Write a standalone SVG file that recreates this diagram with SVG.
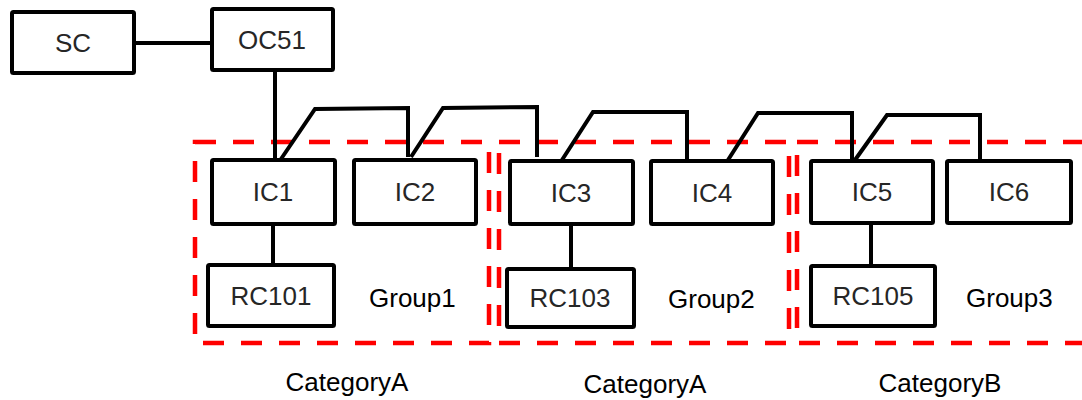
<svg xmlns="http://www.w3.org/2000/svg" width="1082" height="400" viewBox="0 0 1082 400">
<style>
.node rect{fill:#fff;stroke:#000;stroke-width:4;rx:1.5}
.node text{font-family:"Liberation Sans",Arial,sans-serif;font-size:26px;fill:#262626;text-anchor:middle}
.conn path,.conn line{fill:none;stroke:#000;stroke-width:4;stroke-linejoin:miter}
.grp rect{fill:none;stroke:#ff0000;stroke-width:4.5;stroke-dasharray:21 17}
.lbl{font-family:"Liberation Sans",Arial,sans-serif;font-size:26px;fill:#000}
</style>
<rect width="1082" height="400" fill="#fff"/>
<g id="groups" class="grp">
<rect x="195" y="142" width="294" height="201"/>
<rect x="499" y="142" width="290" height="201"/>
<rect x="797" y="142" width="310" height="201"/>
</g>
<g id="connectors" class="conn">
<line x1="136" y1="43" x2="210" y2="43"/>
<line x1="275" y1="72" x2="275" y2="160"/>
<line x1="273" y1="226" x2="273" y2="265"/>
<line x1="571" y1="226" x2="571" y2="269"/>
<line x1="871" y1="225" x2="871" y2="266"/>
<path d="M281,159 L315,109 L408,108 L408,157"/>
<path d="M411,157 L443,108 L537,107 L537,157"/>
<path d="M562,160 L593,112 L687,112 L687,160"/>
<path d="M728,160 L758,113 L852,113 L852,160"/>
<path d="M855,160 L887,115 L980,115 L980,160"/>
</g>
<g id="SC" class="node"><rect x="12" y="12" width="122" height="61"/><text x="73" y="52">SC</text></g>
<g id="OC51" class="node"><rect x="212" y="9" width="121" height="61"/><text x="272" y="49">OC51</text></g>
<g id="IC1" class="node"><rect x="212" y="160" width="123" height="64"/><text x="273" y="201">IC1</text></g>
<g id="IC2" class="node"><rect x="354" y="160" width="122" height="64"/><text x="415" y="201">IC2</text></g>
<g id="RC101" class="node"><rect x="208" y="265" width="126" height="61"/><text x="271" y="305">RC101</text></g>
<g id="IC3" class="node"><rect x="510" y="161" width="123" height="63"/><text x="571" y="202">IC3</text></g>
<g id="IC4" class="node"><rect x="651" y="161" width="122" height="63"/><text x="712" y="202">IC4</text></g>
<g id="RC103" class="node"><rect x="507" y="269" width="127" height="58"/><text x="570" y="307">RC103</text></g>
<g id="IC5" class="node"><rect x="811" y="161" width="122" height="62"/><text x="872" y="201">IC5</text></g>
<g id="IC6" class="node"><rect x="947" y="161" width="124" height="62"/><text x="1009" y="201">IC6</text></g>
<g id="RC105" class="node"><rect x="811" y="266" width="124" height="60"/><text x="873" y="305">RC105</text></g>
<g id="labels">
<text class="lbl" x="369" y="307">Group1</text>
<text class="lbl" x="668" y="308">Group2</text>
<text class="lbl" x="966" y="307">Group3</text>
<text class="lbl" x="347" y="391" text-anchor="middle">CategoryA</text>
<text class="lbl" x="645" y="393" text-anchor="middle">CategoryA</text>
<text class="lbl" x="940" y="392" text-anchor="middle">CategoryB</text>
</g>
</svg>
